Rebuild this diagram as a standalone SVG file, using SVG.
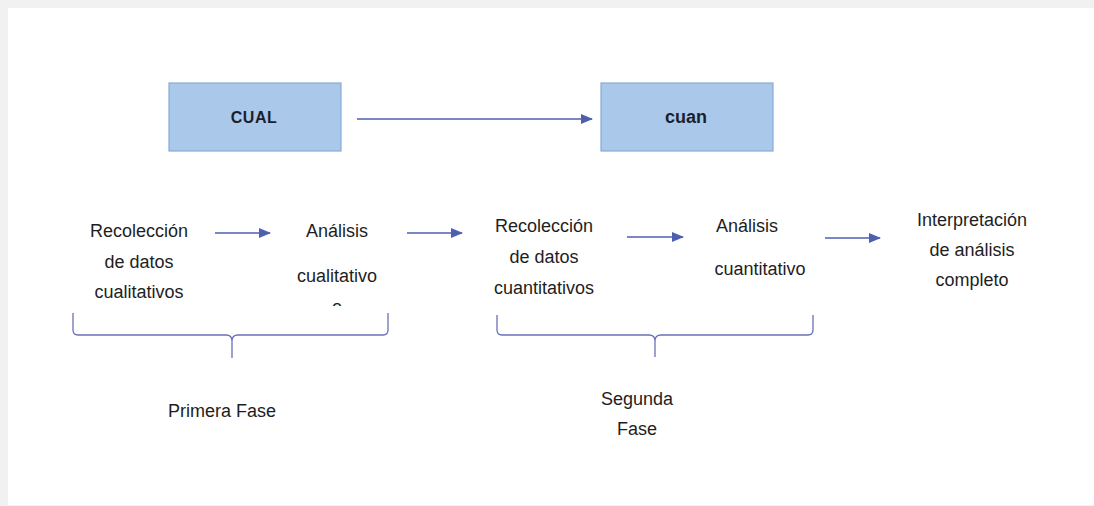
<svg xmlns="http://www.w3.org/2000/svg" width="1094" height="506" viewBox="0 0 1094 506">
<style>
.box{fill:#aac8ea;stroke:#88abd8;stroke-width:1.2}
.bt{font-family:"Liberation Sans",Arial,sans-serif;font-weight:bold;fill:#1c1f2a;text-anchor:middle}
.t{font-family:"Liberation Sans",Arial,sans-serif;font-size:18px;fill:#1e1e1e;text-anchor:middle}
.arr{stroke:#4f5fb0;stroke-width:1.4;fill:none}
.brace{stroke:#6a70b8;stroke-width:1.3;fill:none}
</style>
<defs>
<marker id="ah" markerWidth="12" markerHeight="10" refX="11" refY="5" orient="auto" markerUnits="userSpaceOnUse">
<path d="M0,0 L12,5 L0,10 Z" fill="#4f5fb0"/>
</marker>
<clipPath id="cut"><rect x="320" y="296" width="40" height="10"/></clipPath>
</defs>
<rect x="0" y="0" width="1094" height="506" fill="#f1f1f1"/>
<rect x="8" y="8" width="1086" height="497" fill="#ffffff"/>

<g id="cual">
<rect class="box" x="169" y="83" width="172" height="68"/>
<text class="bt" x="254" y="123" font-size="16" letter-spacing="0.5">CUAL</text>
</g>
<g id="cuan">
<rect class="box" x="601" y="83" width="172" height="68"/>
<text class="bt" x="686" y="123" font-size="18">cuan</text>
</g>

<g id="recoleccion-cual">
<text class="t" x="139" y="237">Recolección</text>
<text class="t" x="139" y="268">de datos</text>
<text class="t" x="139" y="298">cualitativos</text>
</g>
<g id="analisis-cual">
<text class="t" x="337" y="237">Análisis</text>
<text class="t" x="337" y="282">cualitativo</text>
<text class="t" x="337" y="313" clip-path="url(#cut)">o</text>
</g>
<g id="recoleccion-cuan">
<text class="t" x="544" y="232">Recolección</text>
<text class="t" x="544" y="263">de datos</text>
<text class="t" x="544" y="294">cuantitativos</text>
</g>
<g id="analisis-cuan">
<text class="t" x="747" y="232">Análisis</text>
<text class="t" x="760" y="275">cuantitativo</text>
</g>
<g id="interpretacion">
<text class="t" x="972" y="226">Interpretación</text>
<text class="t" x="972" y="256">de análisis</text>
<text class="t" x="972" y="286">completo</text>
</g>
<g id="primera-fase">
<text class="t" x="222" y="417">Primera Fase</text>
</g>
<g id="segunda-fase">
<text class="t" x="637" y="405">Segunda</text>
<text class="t" x="637" y="435">Fase</text>
</g>

<g id="connectors">
<line class="arr" x1="357" y1="119" x2="592" y2="119" marker-end="url(#ah)"/>
<line class="arr" x1="215" y1="233" x2="270" y2="233" marker-end="url(#ah)"/>
<line class="arr" x1="407" y1="233" x2="462" y2="233" marker-end="url(#ah)"/>
<line class="arr" x1="627" y1="237" x2="683" y2="237" marker-end="url(#ah)"/>
<line class="arr" x1="825" y1="238" x2="880" y2="238" marker-end="url(#ah)"/>
<path class="brace" d="M73,313 L73,330 Q73,335 78,335 L226,335 Q232,335 232,341 L232,358 M232,341 Q232,335 238,335 L383,335 Q388,335 388,330 L388,313"/>
<path class="brace" d="M497,315 L497,330 Q497,335 502,335 L649,335 Q655,335 655,341 L655,357 M655,341 Q655,335 661,335 L808,335 Q813,335 813,330 L813,315"/>
</g>
</svg>
